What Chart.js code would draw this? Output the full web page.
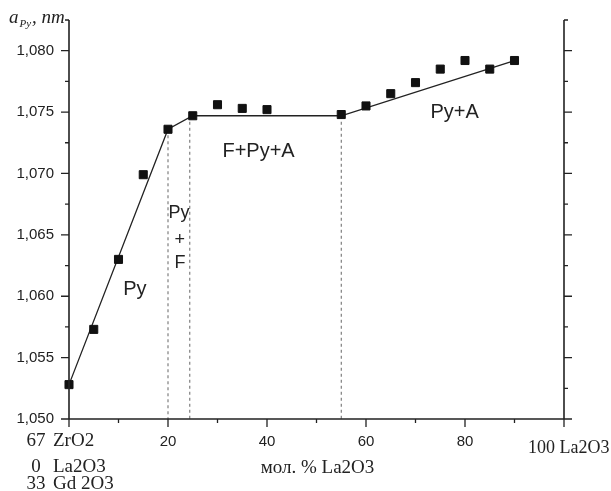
<!DOCTYPE html>
<html>
<head>
<meta charset="utf-8">
<script src="https://cdn.jsdelivr.net/npm/chart.js@4/dist/chart.umd.min.js"></script>
<style>
  html, body { margin: 0; padding: 0; background: #fff; }
  canvas { display: block; }
</style>
</head>
<body>
<canvas id="chart" width="611" height="491"></canvas>
<script>
// Measured lattice parameter a(Py) vs mol. % La2O3
const molLa2O3 = [0, 5, 10, 15, 20, 25, 30, 35, 40, 55, 60, 65, 70, 75, 80, 85, 90];
const aPy = [1.0528, 1.0573, 1.0630, 1.0699, 1.0736, 1.0747, 1.0756, 1.0753, 1.0752,
             1.0748, 1.0755, 1.0765, 1.0774, 1.0785, 1.0792, 1.0785, 1.0792];

// Piecewise fit line
const fitX = [0, 20, 25, 55, 90];
const fitY = [1.0528, 1.0736, 1.0747, 1.0747, 1.0792];

// Phase boundaries (dashed verticals)
const boundaryX = [20, 24.4, 55];
const boundaryTop = [1.0736, 1.0747, 1.0747];

// Axis ticks
const xTickLabels = [20, 40, 60, 80];
const yTickLabels = [1.050, 1.055, 1.060, 1.065, 1.070, 1.075, 1.080];

const INK = '#222';

const datasets = [
    {
        data: molLa2O3.map((x, i) => ({ x: x, y: aPy[i] })),
        showLine: false,
        pointStyle: 'rect',
        pointRadius: 5.7,
        backgroundColor: '#111',
        borderColor: '#111',
        borderWidth: 1,
        clip: false
    },
    {
        data: fitX.map((x, i) => ({ x: x, y: fitY[i] })),
        showLine: true,
        pointRadius: 0,
        borderColor: INK,
        borderWidth: 1.3,
        clip: false
    }
];

boundaryX.forEach((x, i) => {
    datasets.push({
        data: [{ x: x, y: boundaryTop[i] }, { x: x, y: 1.050 }],
        showLine: true,
        pointRadius: 0,
        borderColor: '#666',
        borderWidth: 1,
        borderDash: [3, 3],
        clip: false
    });
});

// Draws axes, ticks, labels and phase names from the chart scales
const frame = {
    id: 'frame',
    afterDraw(chart) {
        const ctx = chart.ctx;
        const xs = chart.scales.x, ys = chart.scales.y;
        const left = xs.getPixelForValue(0), right = xs.getPixelForValue(100);
        const bottom = ys.getPixelForValue(1.050), top = ys.getPixelForValue(1.0825);

        ctx.save();
        ctx.strokeStyle = INK;
        ctx.lineWidth = 1.6;
        ctx.beginPath();
        ctx.moveTo(left, top); ctx.lineTo(left, bottom);
        ctx.moveTo(right, top); ctx.lineTo(right, bottom);
        ctx.moveTo(left, bottom); ctx.lineTo(right, bottom);
        ctx.stroke();

        // y ticks on both sides
        ctx.lineWidth = 1.3;
        ctx.beginPath();
        for (let k = 0; k <= 13; k++) {
            const y = ys.getPixelForValue(1.050 + k * 0.0025);
            const len = k % 2 === 0 ? 8 : 4;
            ctx.moveTo(left, y); ctx.lineTo(left - len, y);
            ctx.moveTo(right, y); ctx.lineTo(right + len, y);
        }
        // x ticks
        for (let v = 0; v <= 100; v += 10) {
            const x = xs.getPixelForValue(v);
            const len = v % 20 === 0 ? 8 : 4;
            ctx.moveTo(x, bottom); ctx.lineTo(x, bottom + len);
        }
        ctx.stroke();

        // tick labels
        ctx.fillStyle = INK;
        ctx.font = '15px "Liberation Sans", Arial, sans-serif';
        ctx.textAlign = 'right';
        ctx.textBaseline = 'middle';
        yTickLabels.forEach(v => {
            ctx.fillText(v.toFixed(3).replace('.', ','), left - 15, ys.getPixelForValue(v));
        });
        ctx.textAlign = 'center';
        ctx.textBaseline = 'alphabetic';
        xTickLabels.forEach(v => {
            ctx.fillText(String(v), xs.getPixelForValue(v), bottom + 27);
        });

        // composition labels (serif)
        ctx.font = '19px "Liberation Serif", "Times New Roman", serif';
        const rows = [['67', 'ZrO2', 27], ['0', 'La2O3', 53], ['33', 'Gd 2O3', 70]];
        rows.forEach(r => {
            ctx.textAlign = 'center';
            ctx.fillText(r[0], left - 33, bottom + r[2]);
            ctx.textAlign = 'left';
            ctx.fillText(r[1], left - 16, bottom + r[2]);
        });
        ctx.textAlign = 'center';
        ctx.fillText('мол. % La2O3', xs.getPixelForValue(50.2), bottom + 54);
        ctx.font = '18px "Liberation Serif", "Times New Roman", serif';
        ctx.textAlign = 'left';
        ctx.fillText('100 La2O3', right - 36, bottom + 34);

        // y axis title
        ctx.font = 'italic 19px "Liberation Serif", "Times New Roman", serif';
        ctx.fillText('a', 9, 23);
        ctx.font = 'italic 11px "Liberation Serif", "Times New Roman", serif';
        ctx.fillText('Py', 19.5, 27);
        ctx.font = 'italic 19px "Liberation Serif", "Times New Roman", serif';
        ctx.fillText(', nm', 32, 23);

        // phase region names
        ctx.textAlign = 'center';
        ctx.font = '20px "Liberation Sans", Arial, sans-serif';
        [['Py', 13.3, 1.0601], ['F+Py+A', 38.3, 1.07135], ['Py+A', 77.9, 1.07453]].forEach(p => {
            ctx.fillText(p[0], xs.getPixelForValue(p[1]), ys.getPixelForValue(p[2]));
        });
        ctx.font = '18px "Liberation Sans", Arial, sans-serif';
        [['Py', 22.2, 1.06637], ['+', 22.4, 1.06416], ['F', 22.4, 1.06229]].forEach(p => {
            ctx.fillText(p[0], xs.getPixelForValue(p[1]), ys.getPixelForValue(p[2]));
        });
        ctx.restore();
    }
};

new Chart(document.getElementById('chart'), {
    type: 'scatter',
    data: { datasets: datasets },
    options: {
        responsive: false,
        animation: false,
        layout: { padding: { left: 69, right: 47, top: 20, bottom: 72 } },
        plugins: { legend: { display: false }, tooltip: { enabled: false } },
        scales: {
            x: { type: 'linear', min: 0, max: 100, display: false },
            y: { type: 'linear', min: 1.050, max: 1.0825, display: false }
        }
    },
    plugins: [frame]
});
</script>
</body>
</html>
